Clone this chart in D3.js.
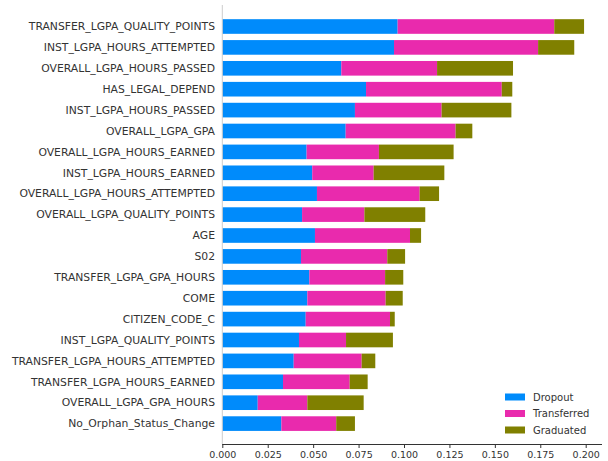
<!DOCTYPE html>
<html><head><meta charset="utf-8">
<script src="https://cdn.jsdelivr.net/npm/d3@7"></script>
<style>body{margin:0;background:#fff}svg{display:block}text{font-family:"DejaVu Sans",sans-serif}</style>
</head><body><svg id="c" width="608" height="461"></svg>
<script>
const features = ["TRANSFER_LGPA_QUALITY_POINTS","INST_LGPA_HOURS_ATTEMPTED","OVERALL_LGPA_HOURS_PASSED","HAS_LEGAL_DEPEND","INST_LGPA_HOURS_PASSED","OVERALL_LGPA_GPA","OVERALL_LGPA_HOURS_EARNED","INST_LGPA_HOURS_EARNED","OVERALL_LGPA_HOURS_ATTEMPTED","OVERALL_LGPA_QUALITY_POINTS","AGE","S02","TRANSFER_LGPA_GPA_HOURS","COME","CITIZEN_CODE_C","INST_LGPA_QUALITY_POINTS","TRANSFER_LGPA_HOURS_ATTEMPTED","TRANSFER_LGPA_HOURS_EARNED","OVERALL_LGPA_GPA_HOURS","No_Orphan_Status_Change"];
const dropout =     [0.0965,0.0945,0.0655,0.0791,0.0730,0.0679,0.0464,0.0495,0.0521,0.0439,0.0510,0.0433,0.0479,0.0468,0.0459,0.0422,0.0393,0.0334,0.0195,0.0325];
const transferred = [0.0862,0.0793,0.0527,0.0747,0.0477,0.0605,0.0398,0.0338,0.0565,0.0343,0.0523,0.0475,0.0417,0.0431,0.0464,0.0259,0.0374,0.0367,0.0273,0.0302];
const graduated =   [0.0164,0.0199,0.0418,0.0058,0.0384,0.0092,0.0411,0.0389,0.0107,0.0335,0.0061,0.0098,0.0100,0.0094,0.0026,0.0258,0.0075,0.0099,0.0310,0.0103];
const seriesNames = ["Dropout","Transferred","Graduated"];
const xTicks = [0,0.025,0.05,0.075,0.1,0.125,0.15,0.175,0.2];
const colors = ["#008bfb","#e92aad","#808000"];

const svg = d3.select("#c");
const x = d3.scaleLinear().domain([0,0.2]).range([222.3,585.7]);
const y = d3.scaleBand().domain(features).range([16.05,434.05]).paddingInner(0.3).paddingOuter(0.15);

const rows = features.map((f,i)=>({feature:f, Dropout:dropout[i], Transferred:transferred[i], Graduated:graduated[i]}));
const stacked = d3.stack().keys(seriesNames)(rows);

svg.append("g").selectAll("g").data(stacked).join("g")
  .attr("fill",(d,i)=>colors[i])
  .selectAll("rect").data(d=>d).join("rect")
  .attr("x",d=>x(d[0])).attr("width",d=>x(d[1])-x(d[0]))
  .attr("y",d=>y(d.data.feature)).attr("height",y.bandwidth());

// y labels
svg.append("g").selectAll("text").data(features).join("text")
  .attr("x",215).attr("y",d=>y(d)+y.bandwidth()/2).attr("dy","0.35em")
  .attr("text-anchor","end").attr("font-size",10.8).attr("fill","#333").text(d=>d);

// left spine
svg.append("line").attr("x1",222.3).attr("x2",222.3).attr("y1",5).attr("y2",444)
  .attr("stroke","#ccc").attr("stroke-width",1);

// x axis
const xa = svg.append("g").attr("transform","translate(0,444)")
  .call(d3.axisBottom(x).tickValues(xTicks).tickFormat(d3.format(".3f")).tickSize(4).tickSizeOuter(0));
xa.select(".domain").attr("d","M222.3,0.5H602").attr("stroke","#333");
xa.selectAll(".tick line").attr("stroke","#333");
xa.selectAll("text").attr("font-size",9.5).attr("fill","#333").attr("font-family","DejaVu Sans");

// legend
const lg = svg.append("g").selectAll("g").data(seriesNames).join("g")
  .attr("transform",(d,i)=>`translate(505,${397+i*16.5})`);
lg.append("rect").attr("x",0).attr("y",-3.5).attr("width",20).attr("height",7).attr("fill",(d,i)=>colors[i]);
lg.append("text").attr("x",28).attr("y",0).attr("dy","0.35em").attr("font-size",10).attr("fill","#333").text(d=>d);
</script></body></html>
